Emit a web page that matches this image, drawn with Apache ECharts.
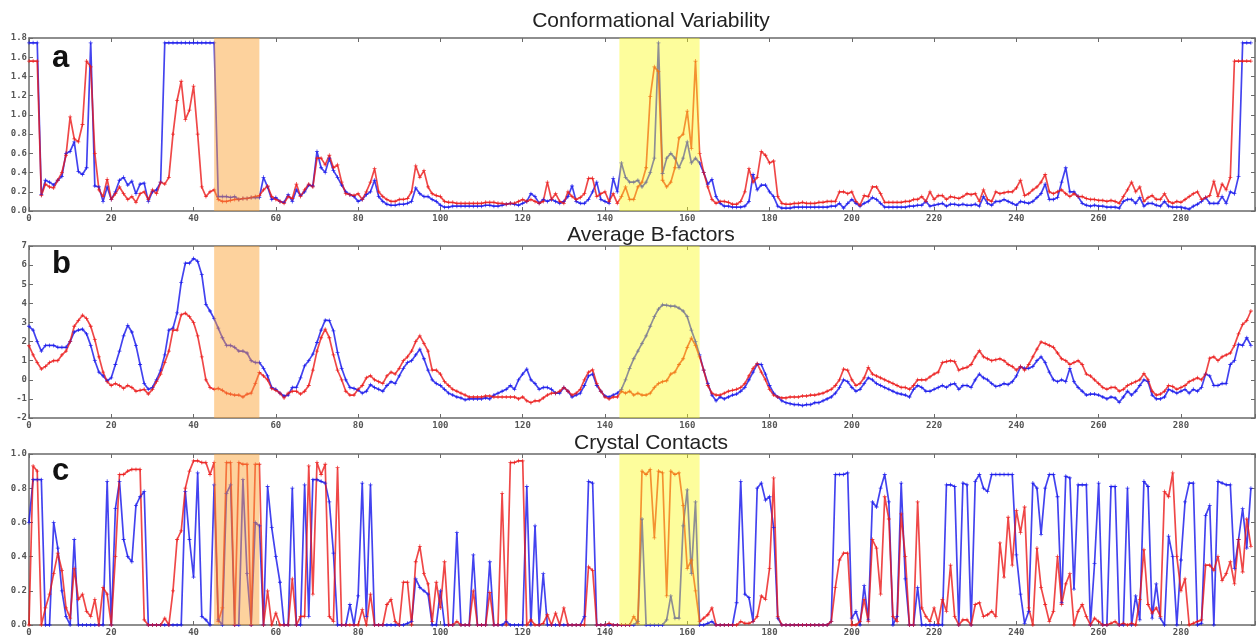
<!DOCTYPE html>
<html>
<head>
<meta charset="utf-8">
<script src="https://cdn.jsdelivr.net/npm/echarts@6/dist/echarts.min.js"></script>
<style>
html,body{margin:0;padding:0;background:#fff;}
#chart{width:1258px;height:637px;}
</style>
</head>
<body>
<div id="chart"></div>
<script>
// ---- Data (residue index 0..297) ----
const xTicks = [0,20,40,60,80,100,120,140,160,180,200,220,240,260,280];
const panelTitles = ['Conformational Variability','Average B-factors','Crystal Contacts'];
const panelLetters = ['a','b','c'];
const highlightOrange = [45, 56];
const highlightYellow = [143.5, 163];

const confBlue = [
1.75,1.75,1.75,0.17,0.32,0.30,0.27,0.32,0.36,0.60,
0.62,0.72,0.41,0.38,0.45,1.75,0.26,0.25,0.10,0.25,
0.12,0.20,0.32,0.35,0.27,0.31,0.18,0.28,0.29,0.10,
0.20,0.22,0.30,1.75,1.75,1.75,1.75,1.75,1.75,1.75,
1.75,1.75,1.75,1.75,1.75,1.75,0.15,0.15,0.15,0.14,
0.15,0.12,0.13,0.13,0.14,0.14,0.14,0.35,0.25,0.12,
0.14,0.10,0.09,0.17,0.10,0.22,0.16,0.20,0.27,0.26,
0.62,0.45,0.40,0.55,0.42,0.35,0.27,0.20,0.17,0.15,
0.10,0.12,0.17,0.20,0.32,0.15,0.10,0.07,0.06,0.06,
0.07,0.07,0.08,0.10,0.24,0.18,0.15,0.15,0.12,0.10,
0.06,0.04,0.04,0.05,0.05,0.05,0.05,0.05,0.05,0.05,
0.05,0.06,0.06,0.05,0.05,0.06,0.07,0.08,0.07,0.06,
0.08,0.10,0.18,0.15,0.08,0.12,0.10,0.12,0.10,0.08,
0.10,0.15,0.26,0.10,0.08,0.08,0.12,0.20,0.30,0.12,
0.10,0.08,0.34,0.20,0.50,0.35,0.30,0.30,0.32,0.25,
0.30,0.40,0.55,1.75,0.39,0.55,0.60,0.55,0.45,0.55,
0.72,0.50,0.55,0.50,0.40,0.28,0.33,0.15,0.08,0.05,
0.05,0.04,0.04,0.04,0.05,0.10,0.38,0.22,0.27,0.27,
0.20,0.15,0.05,0.03,0.03,0.03,0.04,0.04,0.04,0.04,
0.04,0.04,0.04,0.04,0.04,0.05,0.05,0.08,0.03,0.08,
0.12,0.08,0.05,0.08,0.10,0.14,0.12,0.08,0.04,0.04,
0.04,0.04,0.04,0.04,0.05,0.05,0.06,0.06,0.10,0.05,
0.06,0.07,0.08,0.05,0.07,0.07,0.06,0.07,0.06,0.06,
0.07,0.05,0.15,0.08,0.06,0.10,0.10,0.12,0.10,0.08,
0.06,0.10,0.09,0.08,0.10,0.14,0.18,0.28,0.12,0.12,
0.14,0.30,0.45,0.20,0.20,0.15,0.08,0.06,0.05,0.06,
0.05,0.05,0.04,0.04,0.04,0.03,0.10,0.12,0.12,0.08,
0.14,0.05,0.08,0.08,0.06,0.05,0.10,0.05,0.04,0.04,
0.04,0.03,0.02,0.05,0.07,0.10,0.14,0.08,0.08,0.08,
0.15,0.08,0.20,0.18,0.36,1.75,1.75,1.75];

const confRed = [
1.56,1.56,1.56,0.16,0.28,0.25,0.24,0.32,0.40,0.58,
0.98,0.75,0.72,0.90,1.56,1.50,0.60,0.22,0.15,0.33,
0.12,0.18,0.25,0.18,0.12,0.15,0.09,0.18,0.20,0.12,
0.22,0.18,0.30,0.28,0.35,0.80,1.15,1.35,0.95,1.05,
1.30,0.80,0.25,0.15,0.20,0.22,0.12,0.10,0.10,0.11,
0.12,0.12,0.13,0.13,0.14,0.15,0.16,0.22,0.26,0.15,
0.12,0.10,0.08,0.15,0.13,0.28,0.15,0.22,0.28,0.25,
0.55,0.55,0.48,0.58,0.45,0.48,0.30,0.18,0.17,0.16,
0.18,0.12,0.20,0.30,0.44,0.20,0.15,0.12,0.10,0.10,
0.12,0.12,0.13,0.20,0.47,0.35,0.42,0.25,0.18,0.16,
0.15,0.10,0.09,0.09,0.08,0.08,0.08,0.08,0.08,0.08,
0.08,0.09,0.09,0.09,0.08,0.08,0.07,0.08,0.08,0.10,
0.12,0.10,0.12,0.10,0.08,0.10,0.30,0.12,0.18,0.10,
0.08,0.20,0.15,0.12,0.14,0.18,0.34,0.34,0.15,0.18,
0.20,0.10,0.18,0.08,0.15,0.25,0.12,0.12,0.25,0.30,
0.45,1.19,1.50,1.45,0.32,0.25,0.30,0.45,0.76,0.80,
1.04,0.65,1.56,0.60,0.40,0.25,0.12,0.08,0.10,0.10,
0.09,0.07,0.07,0.10,0.20,0.44,0.30,0.35,0.62,0.58,
0.50,0.52,0.15,0.08,0.07,0.07,0.08,0.08,0.09,0.08,
0.08,0.08,0.09,0.09,0.10,0.10,0.10,0.20,0.20,0.18,
0.20,0.10,0.06,0.16,0.15,0.25,0.25,0.18,0.09,0.09,
0.09,0.09,0.09,0.10,0.10,0.12,0.12,0.15,0.10,0.20,
0.12,0.16,0.16,0.12,0.15,0.14,0.13,0.15,0.18,0.17,
0.18,0.10,0.22,0.12,0.10,0.20,0.18,0.19,0.20,0.20,
0.24,0.32,0.16,0.18,0.22,0.25,0.30,0.38,0.20,0.18,
0.20,0.22,0.18,0.15,0.18,0.15,0.15,0.13,0.12,0.12,
0.11,0.11,0.10,0.11,0.10,0.08,0.15,0.22,0.30,0.20,
0.25,0.10,0.14,0.16,0.12,0.12,0.18,0.10,0.08,0.10,
0.09,0.12,0.15,0.18,0.20,0.12,0.14,0.16,0.31,0.15,
0.28,0.22,0.35,1.56,1.56,1.56,1.56,1.56];

const bBlue = [
2.8,2.6,2.0,1.5,1.8,1.8,1.8,1.7,1.7,1.7,
2.0,2.5,2.6,2.65,2.4,1.8,1.0,0.4,0.2,-0.05,
0.1,0.8,1.5,2.3,2.85,2.5,1.8,0.8,-0.2,-0.5,
-0.4,0.0,0.5,1.3,2.6,2.7,3.5,5.1,6.1,6.1,
6.35,6.2,5.5,3.95,3.6,3.2,2.7,2.2,1.8,1.8,
1.7,1.5,1.5,1.4,1.0,0.9,0.9,0.6,0.2,-0.4,
-0.5,-0.7,-0.85,-0.8,-0.4,-0.4,0.1,0.73,1.0,1.34,
1.95,2.6,3.12,3.1,2.56,1.43,0.6,0.0,-0.4,-0.45,
-0.54,-0.7,-0.6,-0.26,-0.4,-0.5,-0.6,-0.3,-0.1,-0.2,
0.2,0.6,0.9,1.0,1.3,1.6,1.1,0.5,0.0,-0.2,
-0.3,-0.5,-0.7,-0.8,-0.9,-0.95,-1.05,-1.0,-1.0,-1.0,
-1.0,-0.95,-1.0,-0.8,-0.7,-0.6,-0.5,-0.3,-0.5,0.0,
0.3,0.56,0.0,-0.2,-0.5,-0.4,-0.4,-0.5,-0.7,-0.7,
-0.4,-0.6,-0.9,-0.8,-0.7,-0.3,0.2,0.3,-0.3,-0.6,
-0.85,-0.9,-0.8,-0.7,-0.5,0.0,0.6,1.1,1.5,1.9,
2.3,2.8,3.3,3.7,3.92,3.9,3.85,3.85,3.75,3.6,
3.3,2.6,2.0,1.3,0.5,-0.2,-0.8,-1.1,-0.9,-1.0,
-0.9,-0.8,-0.75,-0.6,-0.4,0.0,0.4,0.82,0.8,0.3,
-0.3,-0.7,-0.9,-1.1,-1.2,-1.25,-1.3,-1.3,-1.35,-1.3,
-1.3,-1.2,-1.2,-1.1,-1.0,-0.9,-0.7,-0.4,0.0,-0.1,
-0.4,-0.6,-0.5,-0.2,0.1,0.0,-0.2,-0.3,-0.4,-0.5,
-0.6,-0.7,-0.75,-0.8,-0.9,-0.5,-0.3,-0.4,-0.6,-0.6,
-0.5,-0.4,-0.3,-0.4,-0.25,-0.2,-0.5,-0.3,-0.3,-0.4,
0.0,0.3,0.1,0.0,-0.2,-0.35,-0.3,-0.2,-0.25,-0.1,
0.2,0.68,0.6,0.6,0.7,1.0,1.2,0.9,0.4,0.0,
-0.1,0.0,-0.1,0.6,-0.1,-0.4,-0.6,-0.8,-0.75,-0.75,
-0.8,-0.9,-1.0,-0.9,-0.95,-1.18,-0.9,-0.6,-0.8,-0.6,
-0.3,0.0,-0.1,-0.8,-1.0,-1.0,-0.9,-0.5,-0.6,-0.7,
-0.6,-0.5,-0.7,-0.5,-0.6,-0.4,0.3,0.2,-0.3,-0.3,
-0.2,-0.2,0.8,1.0,1.86,1.8,2.2,1.8];

const bRed = [
1.78,1.3,0.9,0.56,0.7,0.9,1.0,1.0,1.3,1.5,
2.0,2.8,3.1,3.38,3.2,2.8,2.1,1.2,0.4,-0.1,
-0.3,-0.2,-0.3,-0.45,-0.3,-0.4,-0.6,-0.55,-0.5,-0.75,
-0.5,-0.1,0.3,0.9,1.5,2.6,2.6,3.4,3.48,3.3,
3.0,2.3,1.2,0.0,-0.4,-0.5,-0.45,-0.55,-0.7,-0.75,
-0.8,-0.8,-0.9,-0.75,-0.7,-0.2,0.38,0.2,0.0,-0.45,
-0.55,-0.7,-0.95,-0.7,-0.6,-0.6,-0.75,-0.6,-0.3,0.5,
1.5,2.2,2.65,2.2,1.3,0.5,0.0,-0.6,-0.8,-0.8,
-0.5,-0.3,0.1,0.21,0.0,-0.1,-0.2,0.2,0.4,0.3,
0.6,1.0,1.2,1.5,2.0,2.3,1.9,1.5,0.5,0.5,
0.3,-0.1,-0.3,-0.5,-0.6,-0.7,-0.8,-0.9,-0.9,-0.9,
-0.9,-0.85,-0.85,-0.9,-0.9,-0.9,-0.9,-0.9,-0.9,-1.0,
-0.9,-1.1,-1.2,-1.1,-1.1,-0.95,-0.8,-0.7,-0.7,-0.6,
-0.4,-0.6,-0.8,-0.7,-0.5,0.0,0.4,0.52,-0.2,-0.6,
-0.9,-1.0,-0.9,-0.9,-0.6,-0.7,-0.6,-0.8,-0.7,-0.8,
-0.8,-0.7,-0.4,-0.2,-0.1,-0.05,0.3,0.4,0.8,1.1,
1.7,2.18,1.8,1.2,0.5,-0.3,-0.7,-0.8,-0.8,-0.7,
-0.6,-0.55,-0.5,-0.4,-0.2,0.2,0.6,0.85,0.4,0.0,
-0.5,-0.8,-0.9,-0.95,-0.95,-0.9,-0.9,-0.9,-0.85,-0.85,
-0.8,-0.8,-0.75,-0.7,-0.6,-0.5,-0.3,0.0,0.56,0.5,
0.0,-0.3,-0.2,0.1,0.65,0.3,0.2,0.1,0.0,-0.1,
-0.2,-0.3,-0.4,-0.4,-0.5,-0.3,0.0,0.0,0.0,0.15,
0.3,0.4,0.9,0.95,1.0,0.95,0.5,0.6,0.65,0.8,
1.2,1.52,1.2,1.1,1.0,1.05,1.1,1.0,0.8,0.7,
0.5,0.7,0.5,0.8,1.2,1.6,1.98,1.9,1.8,1.7,
1.4,1.1,1.0,0.8,0.9,1.0,0.8,0.3,0.2,0.0,
-0.2,-0.4,-0.5,-0.4,-0.4,-0.6,-0.5,-0.3,-0.2,-0.1,
0.0,0.33,0.0,-0.6,-0.8,-0.75,-0.6,-0.3,-0.35,-0.5,
-0.4,-0.3,-0.1,0.0,0.1,0.0,0.3,1.13,1.2,1.0,
1.2,1.3,1.4,1.8,2.4,2.9,3.1,3.6];

const cBlue = [
0.6,0.85,0.85,0.85,0.0,0.0,0.6,0.45,0.2,0.05,
0.0,0.5,0.0,0.0,0.0,0.0,0.0,0.0,0.0,0.84,
0.0,0.68,0.84,0.5,0.4,0.37,0.7,0.75,0.78,0.0,
0.0,0.0,0.0,0.0,0.0,0.0,0.0,0.0,0.78,0.5,
0.28,0.89,0.05,0.03,0.0,0.82,0.03,0.0,0.77,0.82,
0.0,0.0,0.85,0.3,0.0,0.6,0.58,0.0,0.81,0.57,
0.4,0.25,0.0,0.0,0.8,0.0,0.0,0.82,0.05,0.85,
0.85,0.84,0.83,0.72,0.42,0.0,0.0,0.0,0.12,0.0,
0.17,0.83,0.05,0.82,0.0,0.0,0.0,0.0,0.0,0.0,
0.0,0.0,0.01,0.02,0.27,0.22,0.2,0.18,0.0,0.0,
0.2,0.0,0.0,0.0,0.54,0.0,0.0,0.0,0.41,0.0,
0.0,0.0,0.37,0.0,0.0,0.0,0.02,0.0,0.0,0.0,
0.0,0.81,0.0,0.58,0.0,0.3,0.0,0.0,0.0,0.0,
0.0,0.0,0.0,0.0,0.0,0.05,0.84,0.83,0.0,0.0,
0.0,0.0,0.0,0.0,0.0,0.0,0.0,0.0,0.02,0.62,
0.0,0.0,0.0,0.0,0.0,0.03,0.17,0.04,0.04,0.58,
0.79,0.3,0.72,0.0,0.0,0.01,0.02,0.0,0.0,0.0,
0.0,0.0,0.13,0.84,0.18,0.16,0.02,0.8,0.83,0.73,
0.75,0.57,0.04,0.0,0.0,0.0,0.0,0.0,0.0,0.0,
0.0,0.0,0.0,0.0,0.0,0.02,0.88,0.88,0.88,0.89,
0.04,0.08,0.0,0.23,0.03,0.72,0.69,0.8,0.88,0.72,
0.0,0.05,0.83,0.27,0.0,0.0,0.22,0.0,0.0,0.0,
0.0,0.0,0.0,0.82,0.82,0.81,0.0,0.83,0.82,0.0,
0.84,0.88,0.8,0.78,0.88,0.88,0.88,0.88,0.88,0.88,
0.41,0.18,0.01,0.08,0.83,0.8,0.53,0.8,0.88,0.88,
0.75,0.13,0.87,0.86,0.21,0.82,0.82,0.82,0.0,0.36,
0.83,0.0,0.0,0.81,0.81,0.0,0.0,0.8,0.0,0.17,
0.03,0.84,0.81,0.04,0.24,0.04,0.0,0.52,0.4,0.0,
0.38,0.72,0.83,0.83,0.0,0.01,0.64,0.7,0.0,0.84,
0.83,0.82,0.82,0.33,0.5,0.68,0.45,0.8];

const cRed = [
0.0,0.93,0.9,0.0,0.1,0.18,0.3,0.42,0.32,0.1,
0.04,0.33,0.15,0.18,0.08,0.05,0.15,0.0,0.22,0.18,
0.0,0.4,0.88,0.88,0.9,0.91,0.91,0.91,0.03,0.0,
0.0,0.0,0.0,0.04,0.0,0.2,0.5,0.55,0.8,0.9,
0.96,0.96,0.95,0.95,0.88,0.95,0.02,0.1,0.95,0.95,
0.0,0.95,0.94,0.94,0.0,0.94,0.94,0.0,0.2,0.0,
0.07,0.0,0.0,0.0,0.27,0.0,0.05,0.05,0.93,0.18,
0.95,0.88,0.94,0.05,0.02,0.92,0.0,0.0,0.0,0.0,
0.0,0.09,0.0,0.18,0.0,0.0,0.0,0.12,0.15,0.02,
0.0,0.25,0.25,0.0,0.37,0.46,0.3,0.24,0.02,0.25,
0.1,0.37,0.0,0.0,0.02,0.0,0.0,0.0,0.2,0.0,
0.0,0.0,0.19,0.0,0.0,0.77,0.0,0.95,0.95,0.96,
0.96,0.0,0.03,0.0,0.0,0.01,0.06,0.0,0.07,0.0,
0.1,0.0,0.0,0.0,0.0,0.0,0.34,0.32,0.0,0.0,
0.0,0.01,0.0,0.0,0.0,0.0,0.0,0.05,0.01,0.9,
0.88,0.91,0.51,0.9,0.89,0.17,0.9,0.88,0.89,0.7,
0.33,0.38,0.2,0.02,0.04,0.06,0.1,0.0,0.0,0.0,
0.0,0.0,0.0,0.02,0.01,0.01,0.02,0.05,0.17,0.15,
0.33,0.86,0.05,0.0,0.0,0.0,0.0,0.0,0.0,0.0,
0.0,0.0,0.0,0.0,0.0,0.02,0.22,0.38,0.42,0.42,
0.0,0.0,0.02,0.15,0.02,0.5,0.45,0.18,0.75,0.62,
0.05,0.02,0.65,0.4,0.0,0.0,0.72,0.1,0.05,0.02,
0.1,0.01,0.15,0.08,0.35,0.05,0.0,0.03,0.03,0.0,
0.12,0.13,0.05,0.06,0.08,0.05,0.48,0.28,0.63,0.35,
0.67,0.54,0.69,0.1,0.0,0.45,0.22,0.12,0.02,0.08,
0.4,0.12,0.24,0.3,0.0,0.08,0.12,0.05,0.0,0.04,
0.02,0.0,0.0,0.01,0.02,0.0,0.01,0.0,0.01,0.0,
0.15,0.44,0.12,0.07,0.1,0.05,0.78,0.75,0.89,0.4,
0.2,0.27,0.0,0.01,0.02,0.03,0.35,0.35,0.32,0.4,
0.26,0.3,0.37,0.24,0.5,0.31,0.62,0.46];

const yRanges = [
  {min:0, max:1.8, interval:0.2, dec:1},
  {min:-2, max:7, interval:1, dec:0},
  {min:0, max:1.0, interval:0.2, dec:1}
];
const panelSeries = [[confBlue, confRed],[bBlue, bRed],[cBlue, cRed]];

// ---- Layout / style ----
const gridTops = [38, 246, 454];
const gridHeights = [173, 172, 173];
const LEFT = 29, RIGHT = 1;
const X_MAX = 298;
const BLUE = 'rgba(20,20,235,0.8)';
const RED = 'rgba(235,20,20,0.78)';
const AXIS_COLOR = '#6a6a6a';
const plusPath = 'path://M4,0H6V4H10V6H6V10H4V6H0V4H4Z';

const grids = [], xAxes = [], yAxes = [], series = [];
const labelStyle = {fontFamily:'DejaVu Sans Mono', fontSize:9, fontWeight:'bold', color:'#555'};

for (let p = 0; p < 3; p++) {
  grids.push({left: LEFT, right: RIGHT, top: gridTops[p], height: gridHeights[p], containLabel: false});
  const r = yRanges[p];
  xAxes.push({
    type:'value', gridIndex:p, min:0, max:X_MAX, interval:20, position:'bottom',
    axisLine:{show:true, onZero:false, lineStyle:{color:AXIS_COLOR, width:1.5}},
    axisTick:{show:true, inside:true, length:4, lineStyle:{color:AXIS_COLOR}},
    axisLabel:Object.assign({margin:3, formatter: v => (xTicks.indexOf(v) >= 0 ? String(v) : '')}, labelStyle),
    splitLine:{show:false}
  });
  xAxes.push({
    type:'value', gridIndex:p, min:0, max:X_MAX, interval:20, position:'top',
    axisLine:{show:true, onZero:false, lineStyle:{color:AXIS_COLOR, width:1.5}},
    axisTick:{show:true, inside:true, length:4, lineStyle:{color:AXIS_COLOR}},
    axisLabel:{show:false}, splitLine:{show:false}
  });
  yAxes.push({
    type:'value', gridIndex:p, min:r.min, max:r.max, interval:r.interval, position:'left',
    axisLine:{show:true, onZero:false, lineStyle:{color:AXIS_COLOR, width:1.5}},
    axisTick:{show:true, inside:true, length:4, lineStyle:{color:AXIS_COLOR}},
    axisLabel:Object.assign({margin:2, formatter: v => Number(v).toFixed(r.dec)}, labelStyle),
    splitLine:{show:false}
  });
  yAxes.push({
    type:'value', gridIndex:p, min:r.min, max:r.max, interval:r.interval, position:'right',
    axisLine:{show:true, onZero:false, lineStyle:{color:AXIS_COLOR, width:1.5}},
    axisTick:{show:true, inside:true, length:4, lineStyle:{color:AXIS_COLOR}},
    axisLabel:{show:false}, splitLine:{show:false}
  });
  const [blueArr, redArr] = panelSeries[p];
  const mk = (arr, color) => ({
    type:'line', xAxisIndex:2*p, yAxisIndex:2*p,
    data: arr.map((v,i)=>[i,v]),
    symbol: plusPath, symbolSize:4, showSymbol:true,
    itemStyle:{color: color},
    lineStyle:{color: color, width:1.7},
    animation:false, z:2
  });
  series.push(mk(blueArr, BLUE));
  series.push(mk(redArr, RED));
  series.push({
    type:'line', xAxisIndex:2*p, yAxisIndex:2*p, data:[], z:10, animation:false,
    markArea:{
      silent:true, z:10,
      data:[
        [{xAxis:highlightOrange[0], itemStyle:{color:'rgba(250,160,50,0.48)'}}, {xAxis:highlightOrange[1]}],
        [{xAxis:highlightYellow[0], itemStyle:{color:'rgba(250,250,20,0.42)'}}, {xAxis:highlightYellow[1]}]
      ]
    }
  });
}

const titleY = [21, 235.5, 443];
const letterY = [58, 264.5, 471];
const graphics = [];
for (let p = 0; p < 3; p++) {
  graphics.push({type:'text', x:651, y:titleY[p], z:100,
    style:{text:panelTitles[p], font:'21px "Liberation Sans", Arial, sans-serif', fill:'#222',
      textAlign:'center', textVerticalAlign:'middle', verticalAlign:'middle'}});
  graphics.push({type:'text', x:52, y:letterY[p], z:100,
    style:{text:panelLetters[p], font:'bold 31px "Liberation Sans", Arial, sans-serif', fill:'#111',
      textAlign:'left', textVerticalAlign:'middle', verticalAlign:'middle'}});
}

const chart = echarts.init(document.getElementById('chart'), null, {renderer:'canvas'});
chart.setOption({
  animation:false,
  backgroundColor:'#ffffff',
  grid:grids, xAxis:xAxes, yAxis:yAxes, series:series, graphic:graphics
});
</script>
</body>
</html>
